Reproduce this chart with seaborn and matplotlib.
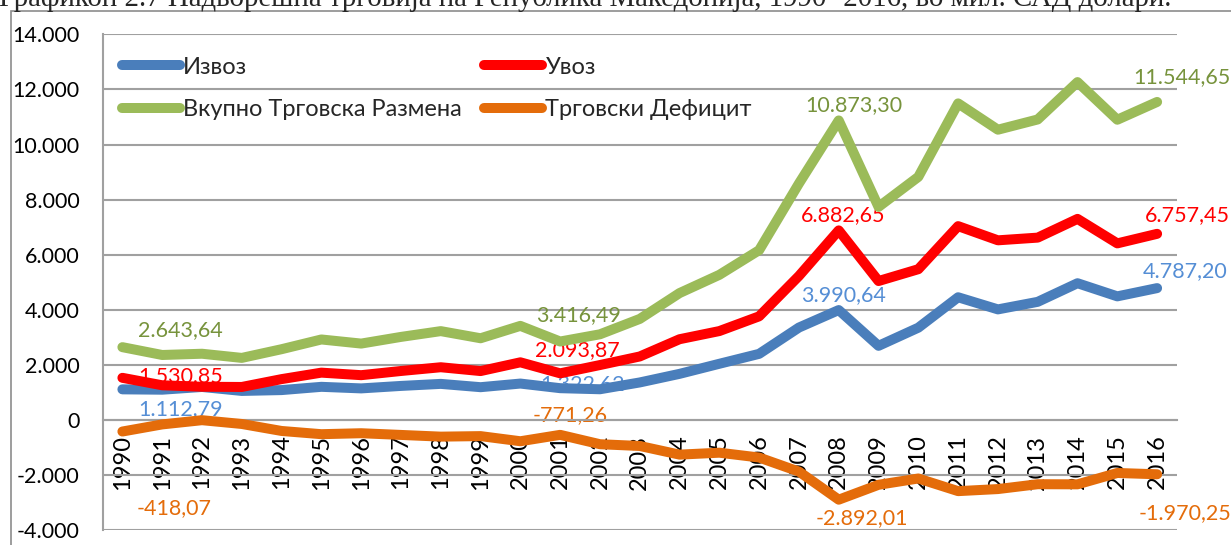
import matplotlib
matplotlib.use("Agg")
import matplotlib.pyplot as plt
import matplotlib.patches as patches
import seaborn as sns
import pandas as pd

# ---- data (мил. САД долари) ----
years = list(range(1990, 2017))
izvoz = [1112.79, 1100, 1199, 1055, 1086, 1204, 1147, 1237, 1311, 1191,
         1322.62, 1155, 1116, 1363, 1675, 2041, 2401, 3356, 3990.64, 2692,
         3351, 4455, 4015, 4289, 4965, 4488, 4787.20]
uvoz = [1530.85, 1260, 1206, 1199, 1484, 1719, 1627, 1779, 1915, 1776,
        2093.87, 1694, 1995, 2306, 2932, 3228, 3763, 5228, 6882.65, 5044,
        5474, 7037, 6522, 6620, 7300, 6411, 6757.45]
vkupno = [2643.64, 2360, 2405, 2254, 2570, 2923, 2774, 3016, 3226, 2967,
          3416.49, 2849, 3111, 3669, 4607, 5269, 6164, 8584, 10873.30, 7736,
          8825, 11492, 10537, 10909, 12265, 10899, 11544.65]
deficit = [-418.07, -160, -7, -144, -398, -515, -480, -542, -604, -585,
           -771.26, -539, -879, -943, -1257, -1187, -1362, -1872, -2892.01, -2352,
           -2123, -2582, -2507, -2331, -2335, -1923, -1970.25]

names = ["Извоз", "Увоз", "Вкупно Трговска Размена", "Трговски Дефицит"]
line_colors = ["#4a7ebb", "#ff0000", "#9bbb59", "#e46c0a"]
label_colors = ["#558ed5", "#ff0000", "#77933c", "#e46c0a"]
yticks = list(range(-4000, 14001, 2000))
title = "Графикон 2.7 Надворешна трговија на Република Македонија, 1990- 2016, во мил. САД долари."

# years that carry data labels, with label offsets in points (dx, dy) per series
label_years = [1990, 2000, 2008, 2016]
label_offsets = {
    "Извоз": [(42, -14.5), (45, -0.5), (3.5, 11), (20, 12)],
    "Увоз": [(42, 1), (41, 8.5), (3.5, 11), (22, 13.5)],
    "Вкупно Трговска Размена": [(42, 12), (42, 8), (11, 11), (18, 17.6)],
    "Трговски Дефицит": [(37, -55), (36, 19), (17, -13), (20, -28)],
}

df = pd.DataFrame({
    "year": years * 4,
    "value": izvoz + uvoz + vkupno + deficit,
    "series": [n for n in names for _ in years],
})


def fmt(v, dec=2):
    s = f"{v:,.{dec}f}"
    return s.replace(",", "X").replace(".", ",").replace("X", ".")


sns.set_style("white")
plt.rcParams["font.family"] = ["Lato", "Noto Sans", "DejaVu Sans"]

fig = plt.figure(figsize=(12.31, 5.45), dpi=100)
W, H = 1231, 545
ax = fig.add_axes([102.5 / W, 1 - 530.2 / H, 1074.5 / W, 495.9 / H])

sns.lineplot(data=df, x="year", y="value", hue="series", hue_order=names,
             palette=line_colors, linewidth=7.2, sort=False, ax=ax, legend=True,
             solid_capstyle="round", solid_joinstyle="round")

for line in ax.get_lines():
    line.set_zorder(3)

ax.set_xlim(1989.5, 2016.5)
ax.set_ylim(-4000, 14000)
ax.set_xlabel("")
ax.set_ylabel("")

# gridlines / axes
ax.set_axisbelow(True)
ax.grid(axis="y", color="#a0a0a0", linewidth=1.5)
ax.grid(axis="x", visible=False)
for s in ["top", "right"]:
    ax.spines[s].set_visible(False)
ax.spines["left"].set_color("#a0a0a0")
ax.spines["left"].set_linewidth(1.5)
ax.spines["bottom"].set_position(("data", 0))
ax.spines["bottom"].set_color("#a0a0a0")
ax.spines["bottom"].set_linewidth(1.5)

ax.set_yticks(yticks)
ax.set_yticklabels([fmt(v, 0) for v in yticks])
ax.tick_params(axis="y", length=5, width=1.5, color="#a0a0a0", pad=11.5,
               labelsize=15.5, labelcolor="black")

ax.set_xticks([y + 0.5 for y in years])
ax.set_xticklabels([])
ax.set_xticks(years, minor=True)
ax.set_xticklabels([str(y) for y in years], minor=True, rotation=90)
ax.tick_params(axis="x", which="major", length=4.5, width=1.5, color="#a0a0a0",
               direction="out")
ax.tick_params(axis="x", which="minor", length=0, pad=10.5, labelsize=17,
               labelcolor="black")

# data labels
series_vals = dict(zip(names, [izvoz, uvoz, vkupno, deficit]))
for name, col in zip(names, label_colors):
    vals = series_vals[name]
    for yr, off in zip(label_years, label_offsets[name]):
        v = vals[years.index(yr)]
        ax.annotate(fmt(v), xy=(yr, v), xytext=off, textcoords="offset points",
                    ha="center", va="center", color=col, fontsize=15.5,
                    zorder=1.5, annotation_clip=False)

# legend, row-major order like the original
handles, labels = ax.get_legend_handles_labels()
hmap = dict(zip(labels, handles))
order = [names[0], names[2], names[1], names[3]]
leg = ax.legend([hmap[n] for n in order], order, ncol=2, frameon=False,
                loc="upper left", bbox_to_anchor=((122 - 102.5) / 1074.5, (530.2 - 56.5) / 495.9),
                borderaxespad=0, borderpad=0, fontsize=17, handlelength=2.46,
                handletextpad=0.13, columnspacing=0.95, labelspacing=0.93)
for lh in leg.get_lines():
    lh.set_linewidth(7.2)
    lh.set_solid_capstyle("round")

# chart frame and cut-off caption
fig.patches.append(patches.Rectangle((10.7 / W, -0.1), 2, 1.1 - 10.7 / H,
                                     transform=fig.transFigure, fill=False,
                                     edgecolor="#8c8c8c", linewidth=1.2))
fig.text(-0.001, 1 - 6 / H, title, family=["Liberation Serif", "DejaVu Serif"],
         fontsize=20.8, va="baseline", ha="left")

fig.savefig("out.png", dpi=100)
